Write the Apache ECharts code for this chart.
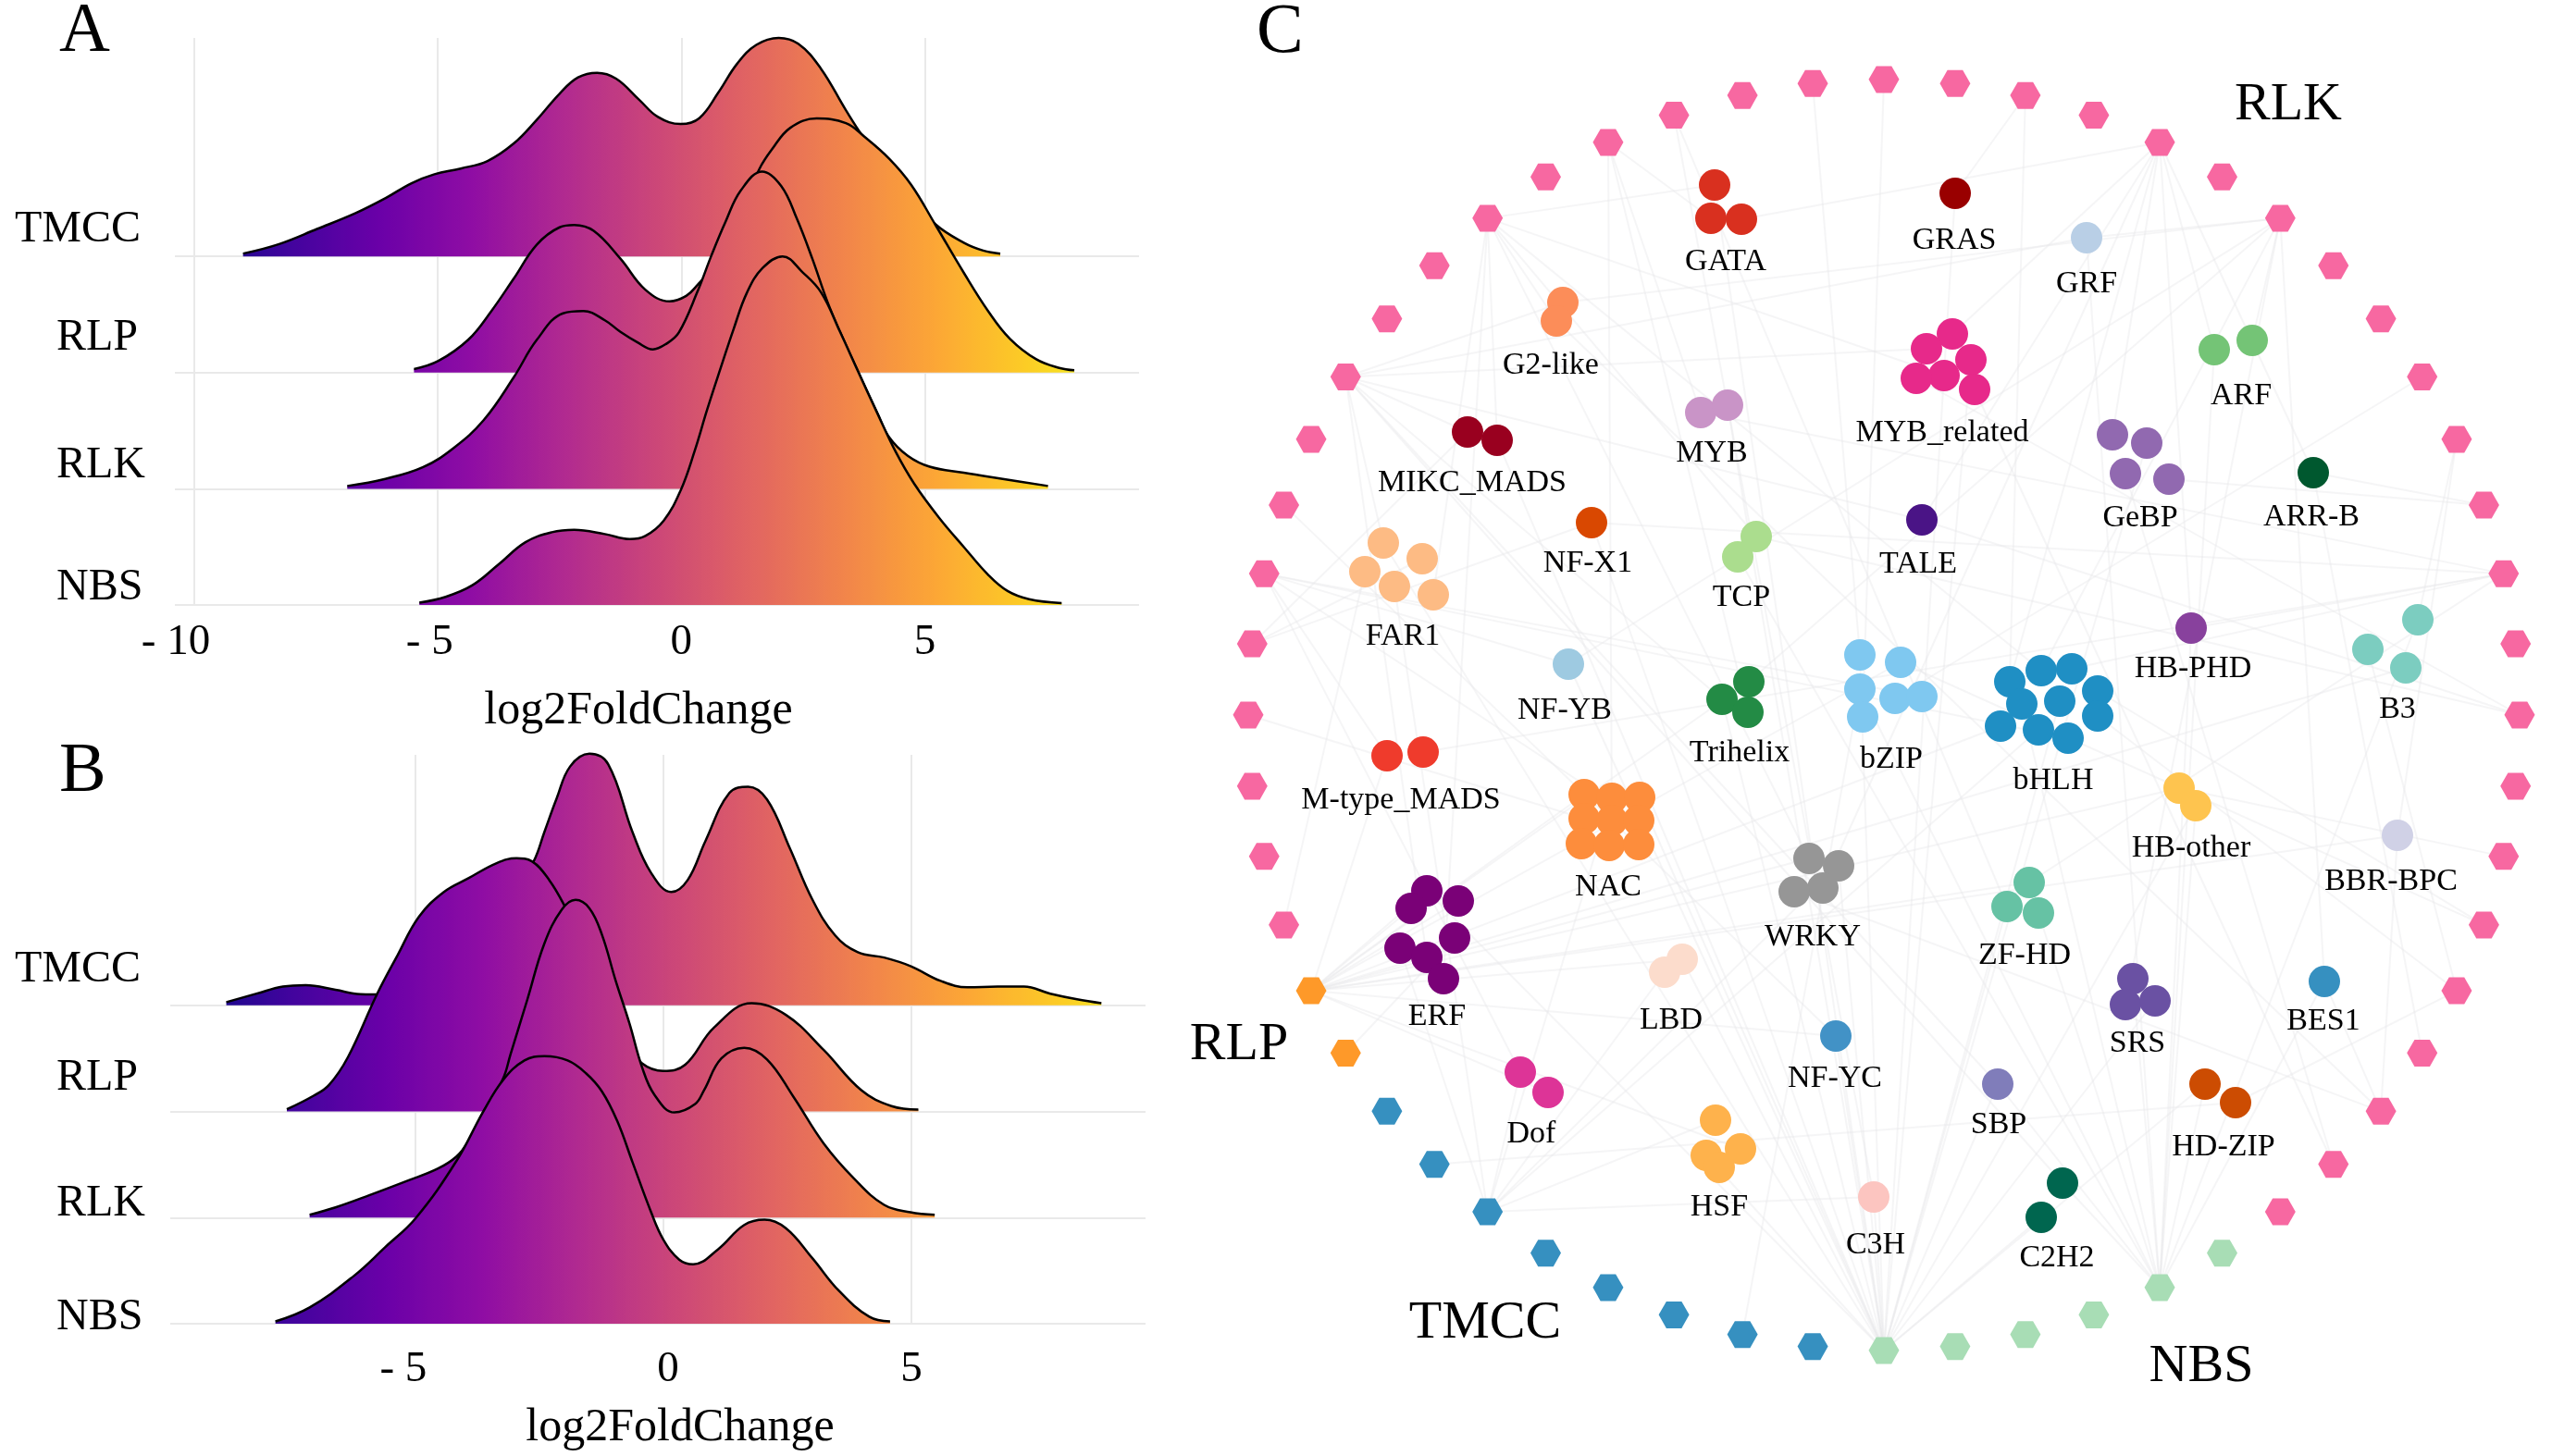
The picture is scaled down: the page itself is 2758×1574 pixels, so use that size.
<!DOCTYPE html>
<html><head><meta charset="utf-8">
<style>html,body{margin:0;padding:0;background:#fff}#c{width:2758px;height:1574px}</style>
<script src="https://cdn.jsdelivr.net/npm/echarts@6/dist/echarts.min.js"></script>
</head><body><div id="c"></div>
<script>
// ---------- ridgeline data: [log2FoldChange, density height in row units] ----------
const ridgeNames = ['NBS','RLK','RLP','TMCC'];
const aTMCC = [[-9,.024],[-8.26,.106],[-7.48,.236],[-6.7,.37],[-6.08,.5],[-5.54,.63],[-5.07,.707],[-4.53,.756],[-3.98,.821],[-3.44,.972],[-2.97,1.175],[-2.5,1.4],[-2.12,1.54],[-1.73,1.58],[-1.34,1.53],[-.87,1.35],[-.48,1.2],[-.01,1.139],[.37,1.19],[.76,1.41],[1.15,1.66],[1.54,1.82],[2,1.88],[2.4,1.83],[2.86,1.62],[3.38,1.258],[3.73,1.03],[4.18,.78],[4.65,.54],[5.22,.276],[5.8,.118],[6.2,.05],[6.55,.024]];
const aRLP = [[-5.49,.03],[-4.99,.1],[-4.37,.285],[-3.9,.53],[-3.44,.81],[-2.97,1.1],[-2.5,1.25],[-2.2,1.27],[-1.8,1.22],[-1.25,.98],[-.74,.714],[-.24,.613],[.1,.66],[.335,.756],[.68,.93],[1.07,1.26],[1.6,1.75],[1.86,1.92],[2.24,2.107],[2.78,2.187],[3.38,2.147],[3.76,2.03],[4.27,1.84],[4.72,1.616],[5.22,1.27],[5.8,.86],[6.3,.53],[6.75,.29],[7.29,.114],[7.76,.04],[8.07,.02]];
const aRLK = [[-6.86,.024],[-6.08,.085],[-5.3,.187],[-4.68,.35],[-4.06,.59],[-3.44,.96],[-2.97,1.28],[-2.43,1.51],[-2.01,1.53],[-1.57,1.45],[-1.25,1.35],[-.9,1.26],[-.585,1.2],[-.3,1.25],[-.05,1.345],[.335,1.7],[.62,2.01],[.91,2.3],[1.22,2.566],[1.66,2.73],[2.05,2.606],[2.37,2.327],[2.69,1.98],[3,1.61],[3.26,1.35],[3.64,1],[4.02,.655],[4.27,.443],[4.65,.284],[5.1,.19],[5.8,.138],[6.6,.085],[7.53,.024]];
const aNBS = [[-5.38,.02],[-4.84,.07],[-4.29,.17],[-3.75,.35],[-3.2,.54],[-2.66,.626],[-2.2,.647],[-1.57,.61],[-1.06,.567],[-.74,.594],[-.36,.727],[-.01,.99],[.27,1.32],[.53,1.68],[.84,2.08],[1.07,2.37],[1.35,2.69],[1.67,2.9],[2.08,3],[2.49,2.863],[2.87,2.69],[3.26,2.35],[3.64,2],[4.02,1.655],[4.4,1.32],[4.78,1.045],[5.29,.753],[5.8,.5],[6.3,.26],[6.7,.12],[7.14,.05],[7.81,.016]];
const bTMCC = [[-8.81,.03],[-8.2,.11],[-7.67,.176],[-7.21,.19],[-6.61,.146],[-6.11,.105],[-5.77,.102],[-5.15,.1],[-4.54,.16],[-3.93,.4],[-3.32,.8],[-2.62,1.351],[-2.4,1.63],[-2.15,1.95],[-1.88,2.25],[-1.49,2.37],[-1.11,2.27],[-.62,1.63],[-.25,1.25],[.16,1.067],[.49,1.18],[.85,1.55],[1.33,2],[1.71,2.06],[2.09,1.94],[2.55,1.48],[3,1],[3.46,.66],[3.92,.5],[4.45,.45],[4.98,.37],[5.59,.23],[6.13,.17],[6.74,.176],[7.27,.176],[7.8,.11],[8.34,.057],[8.83,.02]];
const bRLP = [[-7.59,.02],[-7.05,.148],[-6.74,.25],[-6.36,.51],[-5.77,1.107],[-5.36,1.47],[-4.93,1.833],[-4.43,2.066],[-3.93,2.197],[-3.36,2.34],[-2.96,2.386],[-2.65,2.357],[-2.3,2.18],[-1.99,1.935],[-1.6,1.55],[-1.19,1.15],[-.73,.65],[-.43,.453],[0,.381],[.44,.44],[1.02,.79],[1.78,1.02],[2.47,.91],[3.23,.58],[3.99,.2],[4.6,.05],[5.14,.018]];
const bRLK = [[-7.13,.026],[-6.61,.096],[-5.93,.21],[-5.18,.343],[-4.55,.46],[-4.17,.575],[-3.93,.72],[-3.64,.988],[-3.24,1.3],[-3.08,1.54],[-2.74,2.057],[-2.4,2.58],[-2.05,2.9],[-1.77,2.993],[-1.49,2.914],[-1.24,2.668],[-.96,2.23],[-.68,1.825],[-.43,1.418],[-.18,1.157],[.22,.991],[.64,1.07],[.82,1.2],[1.17,1.5],[1.63,1.6],[2.09,1.49],[2.62,1.14],[3.23,.7],[3.84,.37],[4.45,.12],[4.98,.05],[5.47,.026]];
const bNBS = [[-7.82,.022],[-7.13,.154],[-6.24,.45],[-5.61,.72],[-4.99,.996],[-4.17,1.534],[-3.64,1.99],[-3.24,2.29],[-2.8,2.48],[-2.4,2.52],[-1.93,2.48],[-1.56,2.36],[-1.24,2.19],[-.93,1.91],[-.62,1.52],[-.25,1.055],[0,.793],[.32,.604],[.6,.56],[1.1,.7],[1.63,.93],[2.04,.98],[2.47,.9],[3,.62],[3.54,.31],[4.15,.066],[4.57,.022]];
const xTicks = { a:[-10,-5,0,5], b:[-5,0,5] };
const plasma = ['#0d0887','#41049d','#6a00a8','#8f0da4','#b12a90','#cc4778','#e16462','#f1844b','#fca636','#fccd25','#f0f921'];

// ---------- network data: family -> colour, member positions, label position, ring partners ----------
const ringSizes = [['RLK',23],['NBS',6],['TMCC',8],['RLP',2],['RLK',17]];
const ringColors = {RLK:'#f768a1',NBS:'#a8ddb5',TMCC:'#3690c0',RLP:'#fe9929'};
const ringRadius = 687;
const groupLabels = [['RLK',437,-659],['RLP',-697,357],['NBS',343,705],['TMCC',-431,658]];
const families = [
 ['GATA','#d9301f',[[-183,-573],[-187,-537],[-154,-536]],[-171,-492],[50,52,4,28]],
 ['GRAS','#990000',[[77,-564]],[76,-515],[28,2]],
 ['GRF','#b9cfe6',[[219,-516]],[219,-468],[6,47,24]],
 ['G2-like','#fc8d59',[[-347,-446],[-354,-426]],[-360,-380],[6,50,47,20]],
 ['MYB_related','#e7298a',[[74,-412],[46,-396],[94,-384],[65,-367],[35,-364],[98,-352]],[63,-307],[4,47,28,50,14,21]],
 ['ARF','#74c476',[[357,-395],[398,-405]],[386,-347],[4,6,24]],
 ['MYB','#c994c7',[[-198,-327],[-169,-335]],[-186,-285],[52,28,12]],
 ['MIKC_MADS','#99001f',[[-450,-306],[-418,-297]],[-445,-253],[47,50,43,28]],
 ['GeBP','#9169b0',[[247,-303],[284,-294],[261,-261],[308,-255]],[277,-215],[4,28,21,11]],
 ['ARR-B','#00582f',[[464,-262]],[462,-216],[4,11,19]],
 ['NF-X1','#d94801',[[-316,-208]],[-320,-166],[43,28,12]],
 ['TALE','#4a1486',[[41,-211]],[37,-165],[47,14,4]],
 ['TCP','#abdd8e',[[-138,-193],[-158,-171]],[-154,-129],[50,24,14]],
 ['FAR1','#fdbb84',[[-541,-186],[-499,-169],[-561,-155],[-529,-139],[-487,-130]],[-520,-87],[47,43,39,34,50,28]],
 ['HB-PHD','#88419d',[[332,-94]],[334,-52],[4,24,12]],
 ['B3','#7ccdc0',[[577,-103],[523,-71],[564,-51]],[555,-8],[10,18,38,24]],
 ['NF-YB','#9ecae1',[[-341,-55]],[-345,-7],[44,28,6]],
 ['Trihelix','#238b45',[[-146,-36],[-175,-17],[-147,-3]],[-156,39],[38,28,52,6,47]],
 ['bZIP','#7fc8f0',[[-26,-65],[18,-57],[-26,-28],[12,-18],[41,-20],[-23,2]],[8,46],[28,38,24,9,44,0,55,17,30]],
 ['bHLH','#1f8fc4',[[136,-36],[170,-48],[203,-50],[231,-26],[231,1],[190,-15],[149,-12],[126,12],[167,16],[199,25]],[183,69],[4,6,12,17,18,28,24,38,34,44,2,50]],
 ['M-type_MADS','#ef3b2c',[[-537,44],[-498,40]],[-522,90],[38,12,44]],
 ['NAC','#fd8d3c',[[-324,86],[-294,90],[-264,89],[-324,112],[-294,114],[-265,114],[-327,139],[-297,141],[-265,140]],[-298,184],[38,34,28,42,52,44]],
 ['HB-other','#fec44f',[[319,79],[337,98]],[332,142],[16,24,38,28]],
 ['BBR-BPC','#d0d1e6',[[555,130]],[548,178],[38,20,10]],
 ['WRKY','#969696',[[-81,155],[-49,163],[-66,187],[-97,191]],[-77,238],[38,28,4,20,50,34]],
 ['ZF-HD','#66c2a4',[[157,181],[133,207],[167,214]],[152,258],[38,28,24,12,53]],
 ['ERF','#7a0177',[[-494,190],[-460,201],[-511,209],[-464,241],[-523,252],[-494,262],[-476,285]],[-483,324],[38,38,38,37,34,47,50,28]],
 ['LBD','#fcdccc',[[-218,264],[-237,278]],[-230,328],[38,34,28]],
 ['SRS','#6a51a3',[[269,285],[261,313],[293,309]],[274,353],[24,6,28]],
 ['BES1','#3690c0',[[476,288]],[475,329],[20,24,6]],
 ['NF-YC','#4292c6',[[-52,347]],[-53,391],[38,28,45]],
 ['Dof','#dd3497',[[-393,386],[-363,408]],[-381,451],[34,38,44]],
 ['SBP','#807dba',[[123,399]],[124,441],[28,47,24]],
 ['HD-ZIP','#cc4c02',[[347,399],[380,419]],[367,465],[28,18,24,35]],
 ['HSF','#feb24c',[[-182,438],[-155,469],[-192,476],[-178,489]],[-178,530],[34,38,28]],
 ['C3H','#fcc5c0',[[-11,521]],[-9,571],[28,34,53]],
 ['C2H2','#00664f',[[193,506],[170,543]],[187,585],[24,28,47]]
];

// ---------- build ----------
const serif = '"Liberation Serif","Times New Roman",serif';
const hexPath = 'path://M25 0 L75 0 L100 43 L75 87 L25 87 L0 43 Z';
const chart = echarts.init(document.getElementById('c'), null, {renderer:'canvas'});
const gridStyle = {color:'#e9e9e9', width:2, type:'solid'};

function ridge(name, pts, base, ax, order){
  return {
    name, type:'line', xAxisIndex:ax, yAxisIndex:ax, smooth:0.4, showSymbol:false, silent:true, z:3+order, clip:false,
    data: pts.map(p => [p[0], p[1]+base]),
    lineStyle:{color:'#000', width:2.5},
    areaStyle:{origin:base, opacity:1},
    markLine:{silent:true, symbol:'none', z:1, animation:false, label:{show:false},
      lineStyle:gridStyle, data:[{yAxis:base}]},
    animation:false
  };
}
function gridHolder(ax, ticks){
  return {type:'line', xAxisIndex:ax, yAxisIndex:ax, data:[], silent:true, z:1,
    markLine:{silent:true, symbol:'none', z:1, animation:false, label:{show:false},
      lineStyle:gridStyle, data:ticks.map(v=>({xAxis:v}))}};
}
function labelFor(v){
  if (v<=-10) return '{n10|- '+Math.abs(v)+'}';
  if (v<0) return '{n5|- '+Math.abs(v)+'}';
  if (v===0) return '{z|0}';
  return '{p|'+v+'}';
}
function xAxisFor(ticks, min, max, grid, margin, nameGap, namePad, pad5, pad10, padZero){
  const base = {fontFamily:serif, fontSize:47, color:'#000'};
  return {
    type:'value', gridIndex:grid, min, max, name:'log2FoldChange', nameLocation:'middle', nameGap,
    nameTextStyle:{fontFamily:serif, fontSize:50, color:'#000', padding:namePad},
    axisLine:{show:false}, axisTick:{show:false}, splitLine:{show:false},
    axisLabel:{show:true, customValues:ticks, margin, hideOverlap:false,
      formatter:labelFor,
      rich:{n10:{...base,padding:[0,pad10,0,0]}, n5:{...base,padding:[0,pad5,0,0]}, z:{...base,padding:[0,0,0,padZero]}, p:{...base}}}
  };
}
function yAxisFor(grid, max){
  return {type:'value', gridIndex:grid, min:0, max, axisLine:{show:false}, axisTick:{show:false}, axisLabel:{show:false}, splitLine:{show:false}};
}

// network nodes & links
const ringNodes=[]; let idx=0;
ringSizes.forEach(([g,n])=>{ for(let k=0;k<n;k++){ const th=idx*2*Math.PI/56;
  ringNodes.push({name:'R'+idx, value:[ringRadius*Math.sin(th), -ringRadius*Math.cos(th)], symbol:hexPath, symbolSize:[33,29], itemStyle:{color:ringColors[g]}, label:{show:false}});
  idx++; }});
const famNodes=[], links=[];
families.forEach(([n,col,pos,lab,rings])=>{
  pos.forEach((p,k)=>famNodes.push({name:n+'#'+k, value:p, symbol:'circle', symbolSize:34, itemStyle:{color:col}, label:{show:false}}));
  rings.forEach((r,k)=>links.push({source:'R'+r, target:n+'#'+(k%pos.length)}));
});

const txt = (t,x,y,size,align)=>({type:'text', x, y, silent:true, z:10, style:{text:t, fill:'#000', font:size+'px '+serif, align:align||'left', verticalAlign:'middle'}});
const rowsA=[['TMCC',16,248],['RLP',61,365],['RLK',61,503],['NBS',61,635]];
const rowsB=[['TMCC',16,1048],['RLP',61,1165],['RLK',61,1301],['NBS',61,1424]];

chart.setOption({
  backgroundColor:'#fff', animation:false,
  grid:[
    {left:189, top:41, width:1042, height:613},
    {left:184, top:816, width:1054, height:615},
    {left:1278, top:0, width:1480, height:1574}
  ],
  xAxis:[
    xAxisFor(xTicks.a,-10.4,9.4,0,17,90,[0,40,0,0],18,40,0),
    xAxisFor(xTicks.b,-9.94,9.72,1,26,88,[0,0,0,48],26,26,10),
    {type:'value', gridIndex:2, min:-758, max:722, show:false}
  ],
  yAxis:[ yAxisFor(0,4.88), yAxisFor(1,5.36),
    {type:'value', gridIndex:2, min:-773, max:801, inverse:true, show:false}
  ],
  visualMap:[
    {type:'continuous', show:false, dimension:0, seriesIndex:[0,1,2,3], min:-10, max:9, inRange:{color:plasma}},
    {type:'continuous', show:false, dimension:0, seriesIndex:[4,5,6,7], min:-9.5, max:10, inRange:{color:plasma}}
  ],
  series:[
    ridge('TMCC',aTMCC,3,0,0), ridge('RLP',aRLP,2,0,1), ridge('RLK',aRLK,1,0,2), ridge('NBS',aNBS,0,0,3),
    ridge('TMCC',bTMCC,3,1,0), ridge('RLP',bRLP,2,1,1), ridge('RLK',bRLK,1,1,2), ridge('NBS',bNBS,0,1,3),
    {type:'graph', coordinateSystem:'cartesian2d', xAxisIndex:2, yAxisIndex:2, layout:'none', silent:true, z:2,
     data:ringNodes.concat(famNodes), links, edgeSymbol:['none','none'],
     lineStyle:{color:'#e6e6e9', width:2, opacity:.42, curveness:0}},
    {type:'scatter', xAxisIndex:2, yAxisIndex:2, silent:true, symbolSize:1, z:5, itemStyle:{color:'transparent',opacity:1},
     data:families.map(f=>({name:f[0], value:[f[3][0],f[3][1]+2]})),
     label:{show:true, position:'inside', formatter:'{b}', fontFamily:serif, fontSize:34, color:'#000'}},
    {type:'scatter', xAxisIndex:2, yAxisIndex:2, silent:true, symbolSize:1, z:5, itemStyle:{color:'transparent',opacity:1},
     data:groupLabels.map(g=>({name:g[0], value:[g[1],g[2]]})),
     label:{show:true, position:'inside', formatter:'{b}', fontFamily:serif, fontSize:58, color:'#000'}},
    gridHolder(0,xTicks.a), gridHolder(1,xTicks.b)
  ],
  graphic:[
    txt('A',64,35,76), txt('B',64,835,76), txt('C',1358,36,76),
    ...rowsA.map(r=>txt(r[0],r[1],r[2],48)), ...rowsB.map(r=>txt(r[0],r[1],r[2],48))
  ]
});
</script></body></html>
